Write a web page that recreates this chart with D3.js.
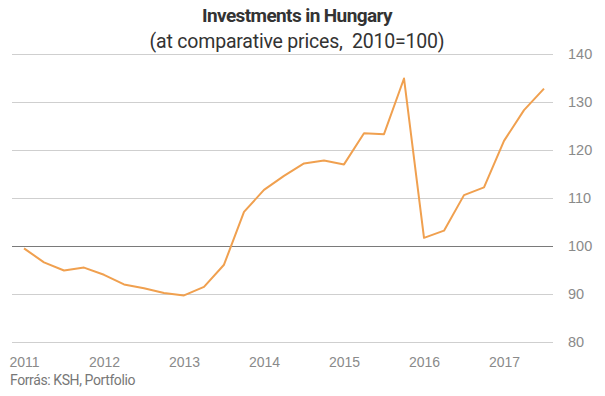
<!DOCTYPE html>
<html>
<head>
<meta charset="utf-8">
<script src="https://cdn.jsdelivr.net/npm/d3@7"></script>
<style>
body { margin: 0; background: #fff; }
svg { font-family: Roboto, "Open Sans", sans-serif; }
.grid line { stroke: #cfcfcf; stroke-width: 1; }
.grid text { fill: #8a8a8a; font-size: 14.5px; }
.xaxis text { fill: #8a8a8a; font-size: 14px; }
</style>
</head>
<body>
<svg id="chart" width="605" height="396"></svg>
<script>
// quarterly data, 2011 Q1 .. 2017 Q3
var years = [2011, 2012, 2013, 2014, 2015, 2016, 2017]
var yTicks = [80, 90, 100, 110, 120, 130, 140]
var values = [
  99.5, 96.6, 94.9, 95.5,
  94.0, 92.0, 91.2, 90.2,
  89.7, 91.5, 96.1, 107.1,
  111.7, 114.6, 117.2, 117.8,
  117.0, 123.5, 123.3, 134.9,
  101.7, 103.2, 110.6, 112.2,
  121.9, 128.3, 132.8
]

var svg = d3.select("#chart")

// plot area
var left = 12, right = 553
var x = d3.scaleLinear().domain([2011, 2017.5]).range([24, 544])
var y = d3.scaleLinear().domain([80, 140]).range([342, 54])

// gridlines + y labels on the right
var gridAxis = d3.axisRight(y)
  .tickValues(yTicks)
  .tickSize(-(right - left))
  .tickPadding(15)

svg.append("g")
  .attr("class", "grid")
  .attr("transform", "translate(" + right + ",0)")
  .call(gridAxis)
  .call(function(g) { g.select(".domain").remove() })
  .call(function(g) {
    g.selectAll(".tick")
      .filter(function(d) { return d === 100 })
      .select("line")
      .style("stroke", "#7a7a7a")
  })

// x axis labels only
var xAxis = d3.axisBottom(x)
  .tickValues(years)
  .tickFormat(d3.format("d"))
  .tickSize(0)
  .tickPadding(0)

svg.append("g")
  .attr("class", "xaxis")
  .attr("transform", "translate(0,357)")
  .call(xAxis)
  .call(function(g) { g.select(".domain").remove() })

// the line
var line = d3.line()
  .x(function(d, i) { return x(2011 + i / 4) })
  .y(function(d) { return y(d) })

svg.append("path")
  .datum(values)
  .attr("d", line)
  .attr("fill", "none")
  .attr("stroke", "#f0a04f")
  .attr("stroke-width", 2)
  .attr("stroke-linejoin", "round")

// titles
svg.append("text")
  .attr("x", 297)
  .attr("y", 22)
  .attr("text-anchor", "middle")
  .style("font-size", "19px")
  .style("font-weight", "bold")
  .style("letter-spacing", "-0.6px")
  .style("fill", "#333")
  .text("Investments in Hungary")

svg.append("text")
  .attr("x", 297)
  .attr("y", 48)
  .attr("text-anchor", "middle")
  .style("font-size", "19.5px")
  .style("letter-spacing", "-0.2px")
  .style("fill", "#333")
  .style("white-space", "pre")
  .text("(at comparative prices,  2010=100)")

// source
svg.append("text")
  .attr("x", 10)
  .attr("y", 385)
  .style("font-size", "14px")
  .style("letter-spacing", "-0.4px")
  .style("fill", "#777")
  .text("Forrás: KSH, Portfolio")
</script>
</body>
</html>
